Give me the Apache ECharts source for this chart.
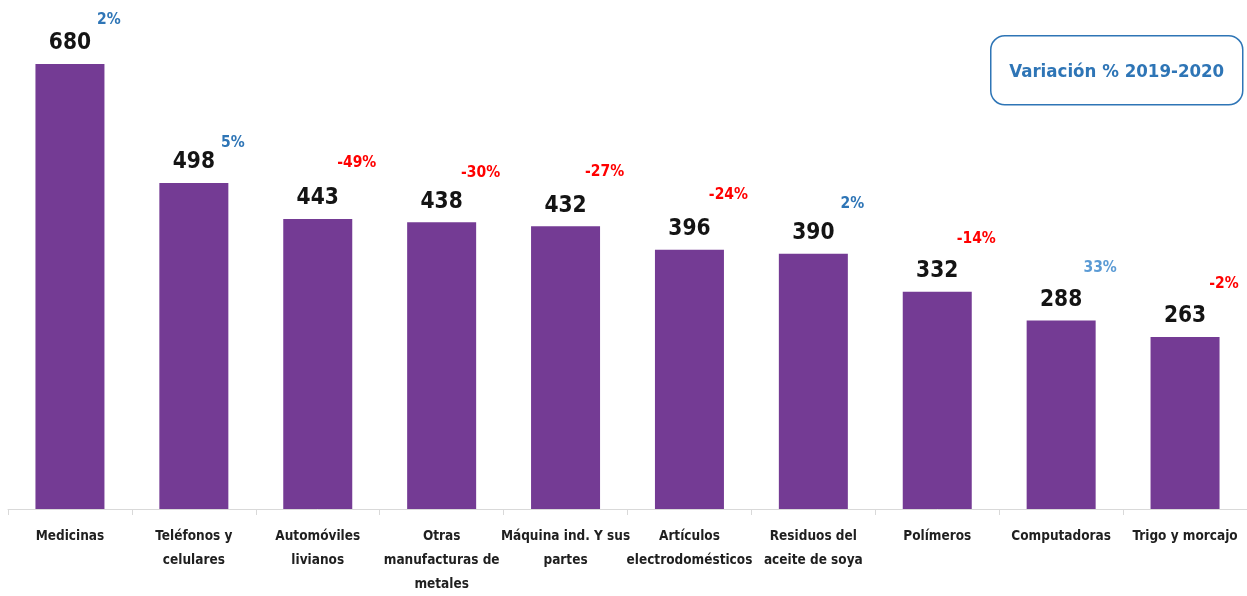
<!DOCTYPE html>
<html><head><meta charset="utf-8">
<script src="https://cdn.jsdelivr.net/npm/echarts@6/dist/echarts.min.js"></script>
<style>html,body{margin:0;padding:0;background:#fff}#c{width:1247px;height:596px}</style>
</head><body><div id="c"></div>
<script>
const categories = ["Medicinas","Teléfonos y\ncelulares","Automóviles\nlivianos","Otras\nmanufacturas de\nmetales","Máquina ind. Y sus\npartes","Artículos\nelectrodomésticos","Residuos del\naceite de soya","Polímeros","Computadoras","Trigo y morcajo"];
const values = [680,498,443,438,432,396,390,332,288,263];
const variation = [2,5,-49,-30,-27,-24,2,-14,33,-2];
const legendText = "Variación % 2019-2020";

const FONT = '"Liberation Sans Narrow","DejaVu Sans Condensed",sans-serif';
const pctDy = [-44,-40,-56,-49,-54,-55,-50,-53,-53,-53];
function pctColor(v){ if(v<0) return '#FF0000'; if(v>=30) return '#5B9BD5'; return '#2E75B6'; }

const chart = echarts.init(document.getElementById('c'));
chart.setOption({
  animation:false,
  grid:{left:8,width:1240,top:64,bottom:86,containLabel:false},
  xAxis:{type:'category',data:categories,
    axisLine:{lineStyle:{color:'#D9D9D9',width:1}},
    axisTick:{show:true,length:6,lineStyle:{color:'#D9D9D9'}},
    axisLabel:{interval:0,color:'#1F1F1F',fontFamily:FONT,fontWeight:'bold',fontSize:13.5,lineHeight:24,margin:15}},
  yAxis:{type:'value',min:0,max:680,show:false,splitLine:{show:false}},
  graphic:[{type:'group',left:990,top:35,children:[
    {type:'rect',shape:{x:0,y:0,width:252,height:69,r:14},style:{fill:'#fff',stroke:'#2E75B6',lineWidth:1.5}},
    {type:'text',style:{x:126,y:36,text:legendText,align:'center',verticalAlign:'middle',fill:'#2E75B6',font:'bold 18.5px '+FONT}}
  ]}],
  series:[
    {type:'bar',data:values,barWidth:69,itemStyle:{color:'#743B94'},
     label:{show:true,position:'top',distance:9,color:'#141414',fontFamily:FONT,fontWeight:'bold',fontSize:22.5}},
    {type:'scatter',symbolSize:0,silent:true,itemStyle:{opacity:1},
     data:values.map((v,i)=>({value:v,label:{show:true,formatter:variation[i]+'%',color:pctColor(variation[i]),offset:[39,pctDy[i]]}})),
     label:{show:true,position:'inside',fontFamily:FONT,fontWeight:'bold',fontSize:15.5}}
  ]
});
</script></body></html>
